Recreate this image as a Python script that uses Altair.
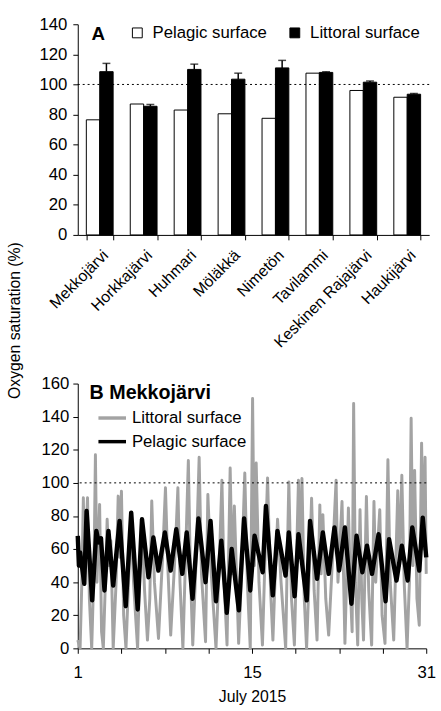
import altair as alt
import pandas as pd

# ---------------- Panel A data ----------------
lakes = ["Mekkojärvi", "Horkkajärvi", "Huhmari", "Möläkkä", "Nimetön",
         "Tavilammi", "Keskinen Rajajärvi", "Haukijärvi"]
pelagic_vals = [76.5, 87, 83, 80.5, 77.5, 107.5, 96, 91.5]
littoral_vals = [108.5, 85.5, 110, 103.5, 111, 108, 101.5, 93.5]
littoral_err = [5.5, 1.2, 3.5, 4.0, 5.0, 0.5, 0.8, 0.5]
series_a = ["Pelagic surface", "Littoral surface"]

# ---------------- Panel B data (day of July 2015, % saturation) ----------------
pel_t = [1.0, 1.1, 1.2, 1.56, 1.76, 2.24, 2.6, 2.8, 3.0, 3.3, 3.64, 4.05, 4.6, 5.13, 5.6,
         6.16, 6.53, 7.09, 7.51, 7.94, 8.5, 9.0, 9.48, 10.0, 10.38, 10.88, 11.39, 12.0,
         12.43, 12.9, 13.36, 13.83, 14.25, 14.87, 15.32, 15.85, 16.22, 16.92, 17.2, 17.79,
         18.19, 18.89, 19.17, 19.67, 20.0, 20.71, 21.0, 21.6, 22.1, 22.6, 23.1, 23.5, 24.0,
         24.56, 25.0, 25.5, 25.9, 26.33, 26.9, 27.5, 27.8, 28.44, 28.9, 29.4, 29.8, 30.4,
         30.7, 31.0]
pel_v = [68, 50, 58, 39, 83, 29, 71, 64, 66.5, 35, 71, 38, 77, 25.5, 82,
         23.5, 78, 43, 67, 47, 70, 47, 72, 45, 70, 30, 78.5, 40,
         77, 28.5, 65, 21.5, 60, 23, 78.5, 35, 68, 46, 86, 32,
         71, 44, 70, 31.5, 69, 29, 77, 42, 70, 45, 73, 47, 73,
         27, 68, 46, 62, 45, 69, 28.5, 66, 41, 62, 41, 73, 47,
         79, 55]

lit_t = [1.0, 1.2, 1.35, 1.48, 1.6, 1.72, 1.84, 2.0, 2.2, 2.4, 2.52, 2.65, 2.88, 3.05, 3.2,
         3.4, 3.53, 3.7, 3.85, 4.05, 4.3, 4.48, 4.6, 4.76, 4.95, 5.15, 5.4, 5.6, 5.8, 6.15,
         6.35, 6.5, 6.75, 7.0, 7.2, 7.37, 7.6, 7.95, 8.3, 8.55, 8.75, 9.0, 9.4, 9.62, 9.8,
         10.05, 10.3, 10.52, 10.7, 10.9, 11.2, 11.45, 11.65, 12.0, 12.2, 12.45, 12.9, 13.2,
         13.41, 13.6, 13.85, 14.12, 14.3, 14.48, 14.85, 15.1, 15.38, 15.6, 15.85, 16.05,
         16.2, 16.36, 16.6, 16.9, 17.1, 17.34, 17.6, 17.8, 18.0, 18.2, 18.5, 18.9, 19.0,
         19.17, 19.4, 19.65, 20.0, 20.15, 20.3, 20.5, 20.7, 20.9, 21.13, 21.35, 21.6, 21.84,
         21.95, 22.1, 22.35, 22.6, 22.9, 23.24, 23.4, 23.75, 24.0, 24.3, 24.5, 24.62, 24.75,
         24.9, 25.1, 25.3, 25.45, 25.6, 25.85, 26.05, 26.3, 26.5, 26.65, 26.8, 27.0, 27.2,
         27.45, 27.7, 27.9, 28.2, 28.55, 28.7, 28.9, 29.1, 29.35, 29.55, 29.7, 29.85, 30.0,
         30.2, 30.4, 30.6, 30.75, 30.9, 31.0]
lit_v = [5, 0, 40, 91, 45, 70, 91, 30, 0, 50, 117, 40, 87, 10, 0,
         45, 78, 50, 65, 0, 40, 92, 55, 95, 20, 0, 45, 75, 40, 0,
         50, 78, 35, 5, 30, 89, 40, 6, 55, 97, 50, 8, 60, 97, 40,
         0, 60, 113.5, 45, 2, 55, 115.5, 45, 4, 93, 50, 0, 55,
         101.6, 40, 2, 109, 45, 86, 3, 45, 106, 40, 0, 151,
         50, 112, 40, 2, 50, 103, 35, 5, 45, 78, 40, 0, 40,
         100.6, 30, 2, 101.6, 55, 102.6, 30, 0, 40, 90.7, 35, 5, 86.7,
         45, 80.8, 30, 8, 50, 101.6, 40, 88.7, 3, 84.8, 30, 10, 148,
         40, 2, 83.8, 30, 5, 91.7, 35, 2, 88.7, 40, 60, 83.8, 20,
         3, 114, 40, 5, 95.3, 50, 104.6, 40, 0, 40, 139, 50, 107.5,
         30, 14, 124, 60, 115.5, 45]

FONT = "Liberation Sans"

# ---------------- Panel A ----------------
bars_df = pd.DataFrame({
    "lake": lakes * 2,
    "series": [series_a[0]] * len(lakes) + [series_a[1]] * len(lakes),
    "value": pelagic_vals + littoral_vals,
})
err_df = pd.DataFrame({
    "lake": lakes,
    "series": [series_a[1]] * len(lakes),
    "lo": littoral_vals,
    "hi": [v + e for v, e in zip(littoral_vals, littoral_err)],
})

xA = alt.X("lake:N", sort=lakes,
           scale=alt.Scale(domain=lakes, paddingInner=0.39, paddingOuter=0.195),
           axis=alt.Axis(title=None, labelAngle=-45, labelFontSize=16, labelColor="black",
                         tickBand="extent", tickSize=5, tickColor="black", domainColor="black",
                         labelPadding=7, labelLimit=300, labelOverlap=False))
xoff = alt.XOffset("series:N", sort=series_a, scale=alt.Scale(domain=series_a))
yA_scale = alt.Scale(domain=[0, 140], nice=False)
yA_axis = alt.Axis(title=None, values=list(range(0, 141, 20)), labelFontSize=17,
                   labelColor="black", tickSize=5, tickColor="black", domainColor="black",
                   grid=False, labelPadding=6, labelOverlap=False)

barsA = alt.Chart(bars_df).mark_bar(stroke="black", strokeWidth=1).encode(
    x=xA, xOffset=xoff,
    y=alt.Y("value:Q", scale=yA_scale, axis=yA_axis),
    fill=alt.Fill("series:N", sort=series_a,
                  scale=alt.Scale(domain=series_a, range=["white", "black"]),
                  legend=alt.Legend(title=None, orient="none", legendX=52, legendY=0,
                                    direction="horizontal", symbolType="square",
                                    symbolSize=100, symbolStrokeColor="black",
                                    symbolStrokeWidth=1, labelFontSize=17,
                                    labelColor="black", columnPadding=19, labelOffset=7,
                                    padding=0)),
)
errA = alt.Chart(err_df).mark_rule(color="black", strokeWidth=1.5).encode(
    x=xA, xOffset=xoff, y=alt.Y("lo:Q", scale=yA_scale, axis=yA_axis), y2="hi:Q")
capA = alt.Chart(err_df).mark_tick(color="black", thickness=1.5, size=8).encode(
    x=xA, xOffset=xoff, y=alt.Y("hi:Q", scale=yA_scale, axis=yA_axis))
ref_df = pd.DataFrame({"ref": [100]})
refA = alt.Chart(ref_df).mark_rule(color="black", strokeDash=[2, 3], strokeWidth=1).encode(
    y=alt.Y("ref:Q", scale=yA_scale, axis=yA_axis))
labA_df = pd.DataFrame({"lab": ["A"]})
labA = alt.Chart(labA_df).mark_text(fontSize=19, fontWeight="bold", align="left",
                                    baseline="middle", color="black").encode(
    x=alt.value(14), y=alt.value(10), text="lab:N")

panelA = alt.layer(barsA, errA, capA, refA, labA).properties(width=357, height=214)

# ---------------- Panel B ----------------
ts_df = pd.DataFrame({
    "day": lit_t + pel_t,
    "sat": lit_v + pel_v,
    "series": ["Littoral surface"] * len(lit_t) + ["Pelagic surface"] * len(pel_t),
})
series_b = ["Littoral surface", "Pelagic surface"]
xticks = [1, 4.75, 8.5, 12.25, 16, 19.75, 23.5, 27.25, 31]
yB_scale = alt.Scale(domain=[0, 160], nice=False)
yB_axis = alt.Axis(title=None, values=list(range(0, 161, 20)), labelFontSize=17,
                   labelColor="black", tickSize=5, tickColor="black",
                   domainColor="black", grid=False, labelPadding=4, labelOverlap=False)

linesB = alt.Chart(ts_df).mark_line(interpolate="linear", strokeJoin="round").encode(
    x=alt.X("day:Q", scale=alt.Scale(domain=[1, 31], nice=False, zero=False),
            axis=alt.Axis(title="July 2015", titleFontSize=16, titleFontWeight="normal",
                          titleColor="black", titlePadding=8, values=xticks,
                          labelExpr="datum.value == 1 ? '1' : datum.value == 16 ? '15' : datum.value == 31 ? '31' : ''",
                          labelFontSize=17, labelColor="black", tickSize=5,
                          tickColor="black", domainColor="black", grid=False,
                          labelPadding=12, labelFlush=False, labelOverlap=False)),
    y=alt.Y("sat:Q", scale=yB_scale, axis=yB_axis),
    stroke=alt.Stroke("series:N", sort=series_b,
                      scale=alt.Scale(domain=series_b, range=["#a3a3a3", "black"]),
                      legend=alt.Legend(title=None, orient="none", legendX=19, legendY=19,
                                        direction="vertical", symbolType="stroke",
                                        symbolSize=784, symbolStrokeWidth=3.5,
                                        labelFontSize=17, labelColor="black",
                                        rowPadding=-6, labelOffset=4, padding=0)),
    strokeWidth=alt.StrokeWidth("series:N", sort=series_b,
                                scale=alt.Scale(domain=series_b, range=[3, 4.5]),
                                legend=None),
    order=alt.Order("day:Q"),
)
refB = alt.Chart(ref_df).mark_rule(color="black", strokeDash=[2, 3], strokeWidth=1).encode(
    y=alt.Y("ref:Q", scale=yB_scale, axis=yB_axis))
labB_df = pd.DataFrame({"lab": ["B Mekkojärvi"]})
labB = alt.Chart(labB_df).mark_text(fontSize=20, fontWeight="bold", align="left",
                                    baseline="middle", color="black").encode(
    x=alt.value(12), y=alt.value(10), text="lab:N")
ytitle_df = pd.DataFrame({"lab": ["Oxygen saturation (%)"]})
ytitle = alt.Chart(ytitle_df).mark_text(fontSize=16, angle=270, align="center",
                                        baseline="middle", color="black").encode(
    x=alt.value(-64), y=alt.value(-64), text="lab:N")

panelB = alt.layer(linesB, refB, labB, ytitle).properties(width=354, height=269)

chart = alt.vconcat(panelA, panelB, spacing=151, bounds="flush").resolve_scale(
    x="independent", y="independent", fill="independent", stroke="independent"
).properties(
    padding={"left": 6, "top": 10, "right": 5, "bottom": 2}
).configure(font=FONT).configure_view(stroke=None)

chart.save("out.html", embed_options={"renderer": "svg", "actions": False})
